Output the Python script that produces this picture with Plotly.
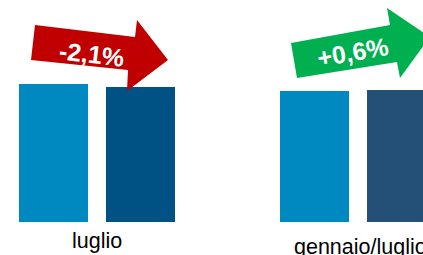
import plotly.graph_objects as go

# ---- data ----
categories = ["luglio", "gennaio/luglio"]
series_prev = [100.0, 95.0]      # earlier period (light blue)
series_curr = [97.9, 95.6]       # current period (dark)
colors_prev = ["#0088C1", "#0088C1"]
colors_curr = ["#005285", "#244F76"]
arrow_colors = ["#C00000", "#00B050"]

W, H = 423, 255
MB = 33
PLOT_H = H - MB

def px(x, y):
    return x / W, (PLOT_H - y) / PLOT_H

def fmt_pct(a, b):
    v = (b - a) / a * 100
    s = f"{v:+.1f}%".replace(".", ",")
    return s

fig = go.Figure()
fig.add_trace(go.Bar(x=categories, y=series_prev, marker=dict(color=colors_prev, line=dict(width=0)),
                     showlegend=False, hoverinfo="skip"))
fig.add_trace(go.Bar(x=categories, y=series_curr, marker=dict(color=colors_curr, line=dict(width=0)),
                     showlegend=False, hoverinfo="skip"))

def path(points):
    pts = [px(x, y) for x, y in points]
    return "M " + " L ".join(f"{a:.5f} {b:.5f}" for a, b in pts) + " Z"

red_pts = [(35, 25), (135, 37), (137, 20), (168, 60), (127, 91), (128, 70), (31, 60)]
green_pts = [(291, 43), (390, 25), (387, 8), (430, 37), (400, 78), (397, 62), (297, 78)]

shapes = [
    dict(type="path", xref="paper", yref="paper", path=path(red_pts),
         fillcolor=arrow_colors[0], line=dict(width=0), layer="above"),
    dict(type="path", xref="paper", yref="paper", path=path(green_pts),
         fillcolor=arrow_colors[1], line=dict(width=0), layer="above"),
]

annotations = []
for (cx, cy), ang, a, b in [((91, 54), 6.5, series_prev[0], series_curr[0]),
                            ((353, 52), -10, series_prev[1], series_curr[1])]:
    xp, yp = px(cx, cy)
    annotations.append(dict(x=xp, y=yp, xref="paper", yref="paper", text=f"<b>{fmt_pct(a, b)}</b>",
                            showarrow=False, textangle=ang, xanchor="center", yanchor="middle",
                            font=dict(family="Liberation Sans, Arial", size=25, color="white")))

label_y = [241, 247]
label_dx = [0, 2]
for cat, ly, dx in zip(categories, label_y, label_dx):
    _, yp = px(0, ly)
    annotations.append(dict(x=cat, y=yp, xref="x", yref="paper", text=cat, showarrow=False,
                            xanchor="center", yanchor="middle", xshift=dx,
                            font=dict(family="Liberation Sans, Arial", size=21.5, color="black")))

slot = 261.0
x0 = -97.0 / slot
fig.update_layout(
    width=W, height=H,
    margin=dict(l=0, r=0, t=0, b=MB, pad=0),
    paper_bgcolor="white", plot_bgcolor="white",
    barmode="group", bargap=0.3333, bargroupgap=0.207,
    xaxis=dict(type="category", range=[x0, x0 + W / slot], showticklabels=False,
               showgrid=False, zeroline=False, showline=False, ticks=""),
    yaxis=dict(range=[0, PLOT_H / 1.38], visible=False, showgrid=False, zeroline=False),
    shapes=shapes, annotations=annotations,
)

fig.write_html("out.html", config={"displayModeBar": False},
               post_script="document.body.style.margin='0';document.body.style.overflow='hidden';")
